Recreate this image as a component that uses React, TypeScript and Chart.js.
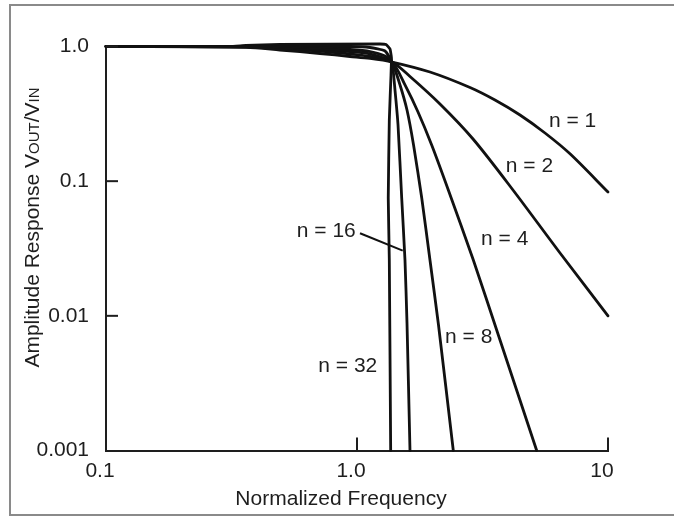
import React, { useEffect, useRef } from 'react';
import { Chart, registerables } from 'chart.js';

Chart.register(...registerables);

// ---- data ----
const seriesNames = ['n = 1', 'n = 2', 'n = 4', 'n = 8', 'n = 16', 'n = 32'];

const n1Freq = [0.1, 0.361, 0.493, 0.712, 0.938, 1.127, 1.379, 1.953, 2.82, 3.546, 4.461, 5.61, 7.057, 10];
const n1Amp = [1.0, 0.985, 0.942, 0.887, 0.843, 0.815, 0.767, 0.6466, 0.4961, 0.4006, 0.31, 0.2279, 0.1597, 0.0831];

const n2Freq = [0.1, 0.361, 0.493, 0.712, 0.938, 1.127, 1.379, 1.626, 2.141, 2.899, 4.182, 6.44, 10];
const n2Amp = [1.0, 0.9915, 0.966, 0.926, 0.88, 0.843, 0.767, 0.5986, 0.3741, 0.2056, 0.086, 0.02928, 0.01];

const n4Freq = [0.1, 0.361, 0.493, 0.712, 0.938, 1.127, 1.379, 1.553, 1.75, 1.984, 2.311, 2.907, 3.679, 5.198];
const n4Amp = [1.0, 1.0, 0.983, 0.95, 0.918, 0.88, 0.767, 0.518, 0.3264, 0.1856, 0.086, 0.02598, 0.00697, 0.001];

const n8Freq = [0.1, 0.361, 0.493, 0.712, 0.938, 1.127, 1.293, 1.379, 1.484, 1.582, 1.68, 1.811, 1.953, 2.112, 2.419];
const n8Amp = [1.0, 1.0, 0.9915, 0.975, 0.95, 0.918, 0.85, 0.767, 0.518, 0.3376, 0.1856, 0.075, 0.02598, 0.00855, 0.001];

const n16Freq = [0.1, 0.361, 0.938, 1.127, 1.293, 1.379, 1.417, 1.457, 1.507, 1.553, 1.582, 1.626];
const n16Amp = [1.0, 1.0, 1.0, 0.983, 0.926, 0.767, 0.475, 0.2613, 0.075, 0.02598, 0.00885, 0.001];

const n32Freq = [0.1, 0.312, 0.361, 0.493, 1.235, 1.305, 1.354, 1.372, 1.366, 1.345, 1.332, 1.345, 1.362];
const n32Amp = [1.0, 1.0, 1.017, 1.035, 1.044, 1.035, 0.958, 0.822, 0.614, 0.2845, 0.075, 0.02598, 0.001];

const xTickValues = [0.1, 1, 10];
const xTickLabels = ['0.1', '1.0', '10'];
const yTickValues = [0.001, 0.01, 0.1, 1];
const yTickLabels = ['0.001', '0.01', '0.1', '1.0'];
const xTickMarks = [1, 10];
const yTickMarks = [0.01, 0.1, 1];

const labelFreq = [7.222, 4.867, 3.877, 2.786, 0.7546, 0.9189];
const labelAmp = [0.2538, 0.1176, 0.03357, 0.006253, 0.0387, 0.003846];

const leaderFreq = [1.028, 1.521];
const leaderAmp = [0.04101, 0.03046];

const xTitle = 'Normalized Frequency';
const yTitleParts: [string, boolean][] = [
  ['Amplitude Response V', false],
  ['OUT', true],
  ['/V', false],
  ['IN', true],
];

const FONT = '"Liberation Sans", Arial, Helvetica, sans-serif';
const INK = '#1e1e1e';

const toPts = (xs: number[], ys: number[]) => xs.map((x, i) => ({ x, y: ys[i] }));

const decor = {
  id: 'decor',
  beforeDraw(chart: any) {
    const ctx = chart.ctx;
    ctx.save();
    ctx.fillStyle = '#ffffff';
    ctx.fillRect(0, 0, chart.width, chart.height);
    ctx.strokeStyle = '#8a8a8a';
    ctx.lineWidth = 2;
    ctx.beginPath();
    ctx.moveTo(674, 5);
    ctx.lineTo(10, 5);
    ctx.lineTo(10, 515);
    ctx.lineTo(674, 515);
    ctx.stroke();
    ctx.restore();
  },
  afterDraw(chart: any) {
    const { ctx, chartArea, scales } = chart;
    const xs = scales.x;
    const ys = scales.y;
    ctx.save();
    ctx.strokeStyle = INK;
    ctx.lineWidth = 2;
    yTickMarks.forEach((v) => {
      const py = ys.getPixelForValue(v);
      ctx.beginPath();
      ctx.moveTo(chartArea.left, py);
      ctx.lineTo(chartArea.left + 12, py);
      ctx.stroke();
    });
    xTickMarks.forEach((v) => {
      const px = xs.getPixelForValue(v);
      ctx.beginPath();
      ctx.moveTo(px, chartArea.bottom);
      ctx.lineTo(px, chartArea.bottom - 13);
      ctx.stroke();
    });

    ctx.fillStyle = INK;
    ctx.font = `21px ${FONT}`;
    ctx.textAlign = 'center';
    ctx.textBaseline = 'alphabetic';
    seriesNames.forEach((t, i) => {
      ctx.fillText(t, xs.getPixelForValue(labelFreq[i]), ys.getPixelForValue(labelAmp[i]));
    });

    // x title
    ctx.fillText(xTitle, (chartArea.left + chartArea.right) / 2 - 16, 505);

    // y title with small caps
    const big = `21px ${FONT}`;
    const small = `15px ${FONT}`;
    let total = 0;
    yTitleParts.forEach(([t, sc]) => {
      ctx.font = sc ? small : big;
      total += ctx.measureText(t).width;
    });
    ctx.translate(38.5, 227.5);
    ctx.rotate(-Math.PI / 2);
    ctx.textAlign = 'left';
    let cx = -total / 2;
    yTitleParts.forEach(([t, sc]) => {
      ctx.font = sc ? small : big;
      ctx.fillText(t, cx, 0);
      cx += ctx.measureText(t).width;
    });
    ctx.restore();
  },
};

export default function App() {
  const ref = useRef<HTMLCanvasElement | null>(null);

  useEffect(() => {
    if (!ref.current) return;
    const curve = (xs: number[], ys: number[], tension: number) => ({
      data: toPts(xs, ys),
      borderColor: '#111111',
      borderWidth: 2.8,
      pointRadius: 0,
      showLine: true,
      tension,
      clip: false as any,
      borderCapStyle: 'round' as const,
      borderJoinStyle: 'round' as const,
    });
    const chart = new Chart(ref.current, {
      type: 'scatter',
      data: {
        datasets: [
          { label: seriesNames[0], ...curve(n1Freq, n1Amp, 0.3) },
          { label: seriesNames[1], ...curve(n2Freq, n2Amp, 0.3) },
          { label: seriesNames[2], ...curve(n4Freq, n4Amp, 0.25) },
          { label: seriesNames[3], ...curve(n8Freq, n8Amp, 0.2) },
          { label: seriesNames[4], ...curve(n16Freq, n16Amp, 0.15) },
          { label: seriesNames[5], ...curve(n32Freq, n32Amp, 0.1) },
          {
            label: 'leader',
            data: toPts(leaderFreq, leaderAmp),
            borderColor: '#111111',
            borderWidth: 2,
            pointRadius: 0,
            showLine: true,
            tension: 0,
          },
        ],
      },
      options: {
        responsive: false,
        maintainAspectRatio: false,
        animation: false,
        devicePixelRatio: 1,
        layout: { padding: { top: 46.5, right: 66, bottom: 0, left: 0 } },
        plugins: {
          legend: { display: false },
          tooltip: { enabled: false },
        },
        scales: {
          x: {
            type: 'logarithmic',
            position: 'bottom',
            min: 0.1,
            max: 10,
            grid: { display: false, drawTicks: false },
            border: { display: true, color: INK, width: 2 },
            afterBuildTicks: (scale: any) => {
              scale.ticks = xTickValues.map((v) => ({ value: v }));
            },
            afterFit: (scale: any) => {
              scale.height = 66.5;
            },
            ticks: {
              autoSkip: false,
              maxRotation: 0,
              padding: 8,
              labelOffset: -6,
              color: INK,
              font: { family: FONT, size: 21 },
              callback: (v: any) => xTickLabels[xTickValues.indexOf(Number(v))] ?? '',
            },
          },
          y: {
            type: 'logarithmic',
            position: 'left',
            min: 0.001,
            max: 1,
            grid: { display: false, drawTicks: false },
            border: { display: true, color: INK, width: 2 },
            afterBuildTicks: (scale: any) => {
              scale.ticks = yTickValues.map((v) => ({ value: v }));
            },
            afterFit: (scale: any) => {
              scale.width = 106;
            },
            ticks: {
              autoSkip: false,
              padding: 17,
              color: INK,
              font: { family: FONT, size: 21 },
              callback: (v: any) => yTickLabels[yTickValues.indexOf(Number(v))] ?? '',
            },
          },
        },
      },
      plugins: [decor],
    });
    return () => chart.destroy();
  }, []);

  return (
    <div style={{ position: 'absolute', left: 0, top: 0, width: 674, height: 517, background: '#fff' }}>
      <canvas ref={ref} width={674} height={517} style={{ display: 'block' }} />
    </div>
  );
}
